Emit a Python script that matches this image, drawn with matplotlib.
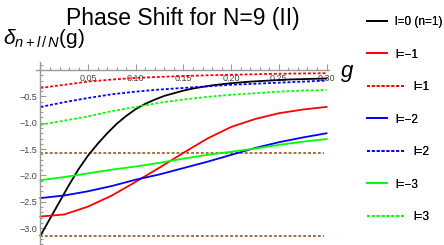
import numpy as np
import matplotlib
matplotlib.use('Agg')
import matplotlib.pyplot as plt
from matplotlib.ticker import MultipleLocator

plt.rcParams['font.family'] = ['Liberation Sans', 'DejaVu Sans']
plt.rcParams['mathtext.fontset'] = 'custom'
plt.rcParams['mathtext.rm'] = 'Liberation Sans'
plt.rcParams['mathtext.it'] = 'Liberation Sans:italic'

# data
g = [0, 0.025, 0.05, 0.075, 0.10, 0.125, 0.15, 0.175, 0.20, 0.225, 0.25, 0.275, 0.30]
l_m1 = [-2.78, -2.74, -2.59, -2.38, -2.12, -1.85, -1.57, -1.30, -1.08, -0.93, -0.82, -0.75, -0.70]
l_p1 = [-0.34, -0.28, -0.22, -0.18, -0.15, -0.13, -0.115, -0.10, -0.09, -0.08, -0.07, -0.065, -0.06]
l_m2 = [-2.43, -2.38, -2.30, -2.20, -2.08, -1.98, -1.86, -1.74, -1.61, -1.48, -1.37, -1.28, -1.20]
l_p2 = [-0.70, -0.61, -0.53, -0.46, -0.41, -0.37, -0.34, -0.31, -0.28, -0.26, -0.24, -0.22, -0.20]
l_m3 = [-2.09, -2.03, -1.96, -1.89, -1.83, -1.76, -1.68, -1.61, -1.55, -1.49, -1.42, -1.36, -1.31]
l_p3 = [-1.04, -0.96, -0.88, -0.78, -0.70, -0.62, -0.56, -0.51, -0.47, -0.44, -0.41, -0.39, -0.38]

g_black = [0, 0.01, 0.02, 0.03, 0.04, 0.05, 0.06, 0.07, 0.08, 0.09, 0.10, 0.11,
           0.12, 0.13, 0.14, 0.15, 0.16, 0.18, 0.20, 0.22, 0.24, 0.26, 0.28, 0.30]
l_0 = [-3.14, -2.82, -2.50, -2.18, -1.88, -1.62, -1.40, -1.20, -1.02, -0.87, -0.74, -0.64,
       -0.56, -0.49, -0.44, -0.39, -0.35, -0.29, -0.25, -0.22, -0.20, -0.18, -0.17, -0.16]

g_ref = [0, 0.297]
ref_levels = [-np.pi / 2, -np.pi]

labels = ['l=0 (n=1)', 'l=\u22121', 'l=1', 'l=\u22122', 'l=2', 'l=\u22123', 'l=3']

dots = (0, (1.6, 1.1))
fig = plt.figure(figsize=(4.44, 2.45), dpi=100)
ax = fig.add_axes([35.7 / 444, 0, 293.2 / 444, 183.4 / 245])

for lvl in ref_levels:
    ax.plot(g_ref, [lvl, lvl], color='#996633', lw=1.3, ls=dots)

kw = dict(lw=1.3, solid_joinstyle='round')
h0, = ax.plot(g_black, l_0, color='black', **kw)
h1, = ax.plot(g, l_m1, color='#ff0000', **kw)
h2, = ax.plot(g, l_p1, color='#ff0000', ls=dots, **kw)
h3, = ax.plot(g, l_m2, color='#0000ff', **kw)
h4, = ax.plot(g, l_p2, color='#0000ff', ls=dots, **kw)
h5, = ax.plot(g, l_m3, color='#00ff00', **kw)
h6, = ax.plot(g, l_p3, color='#00ff00', ls=dots, **kw)
handles = [h0, h1, h2, h3, h4, h5, h6]

ax.set_xlim(-0.005, 0.3025)
ax.set_ylim(-3.32, 0.16)
ax.spines['top'].set_visible(False)
ax.spines['right'].set_visible(False)
ax.spines['bottom'].set_position(('data', 0))
ax.spines['left'].set_position(('data', 0))
for s in ['bottom', 'left']:
    ax.spines[s].set_color('#999999')
    ax.spines[s].set_linewidth(1.0)

ax.set_xticks([0.05, 0.10, 0.15, 0.20, 0.25, 0.30])
ax.set_xticklabels(['0.05', '0.10', '0.15', '0.20', '0.25', '0.30'])
ax.xaxis.set_minor_locator(MultipleLocator(0.01))
ax.set_yticks([-0.5, -1.0, -1.5, -2.0, -2.5, -3.0])
ax.set_yticklabels(['\u22120.5', '\u22121.0', '\u22121.5', '\u22122.0', '\u22122.5', '\u22123.0'])
ax.yaxis.set_minor_locator(MultipleLocator(0.1))
ax.tick_params(which='both', direction='in', color='#999999', labelsize=6.5,
               labelcolor='#444444', width=0.8)
ax.tick_params(which='major', length=4)
ax.tick_params(which='minor', length=2)
ax.tick_params(axis='x', pad=3)
ax.tick_params(axis='y', pad=2)
ax.patch.set_alpha(0)

fig.text(182.5 / 444, 1 - 25 / 245, 'Phase Shift for N=9 (II)', fontsize=16.5,
         ha='center', va='baseline')
fig.text(3 / 444, 1 - 44 / 245, r'$\delta_{n+l\,/\,N}$(g)', fontsize=15,
         ha='left', va='baseline')
fig.text(341 / 444, 1 - 77 / 245, 'g', fontsize=16, style='italic',
         ha='left', va='baseline')

# legend, one entry at a time (dotted entries have longer samples)
for i, (h, lab) in enumerate(zip(handles, labels)):
    dotted = h.get_linestyle() != '-'
    leg = fig.legend([h], [lab], loc='center left',
                     bbox_to_anchor=(367 / 444, 1 - (22 + 32.5 * i) / 245),
                     frameon=False, fontsize=8.5, borderpad=0, borderaxespad=0,
                     handlelength=3.2 if dotted else 1.7, handletextpad=0.7)
    fig.add_artist(leg)

fig.savefig('out.png', dpi=100)
